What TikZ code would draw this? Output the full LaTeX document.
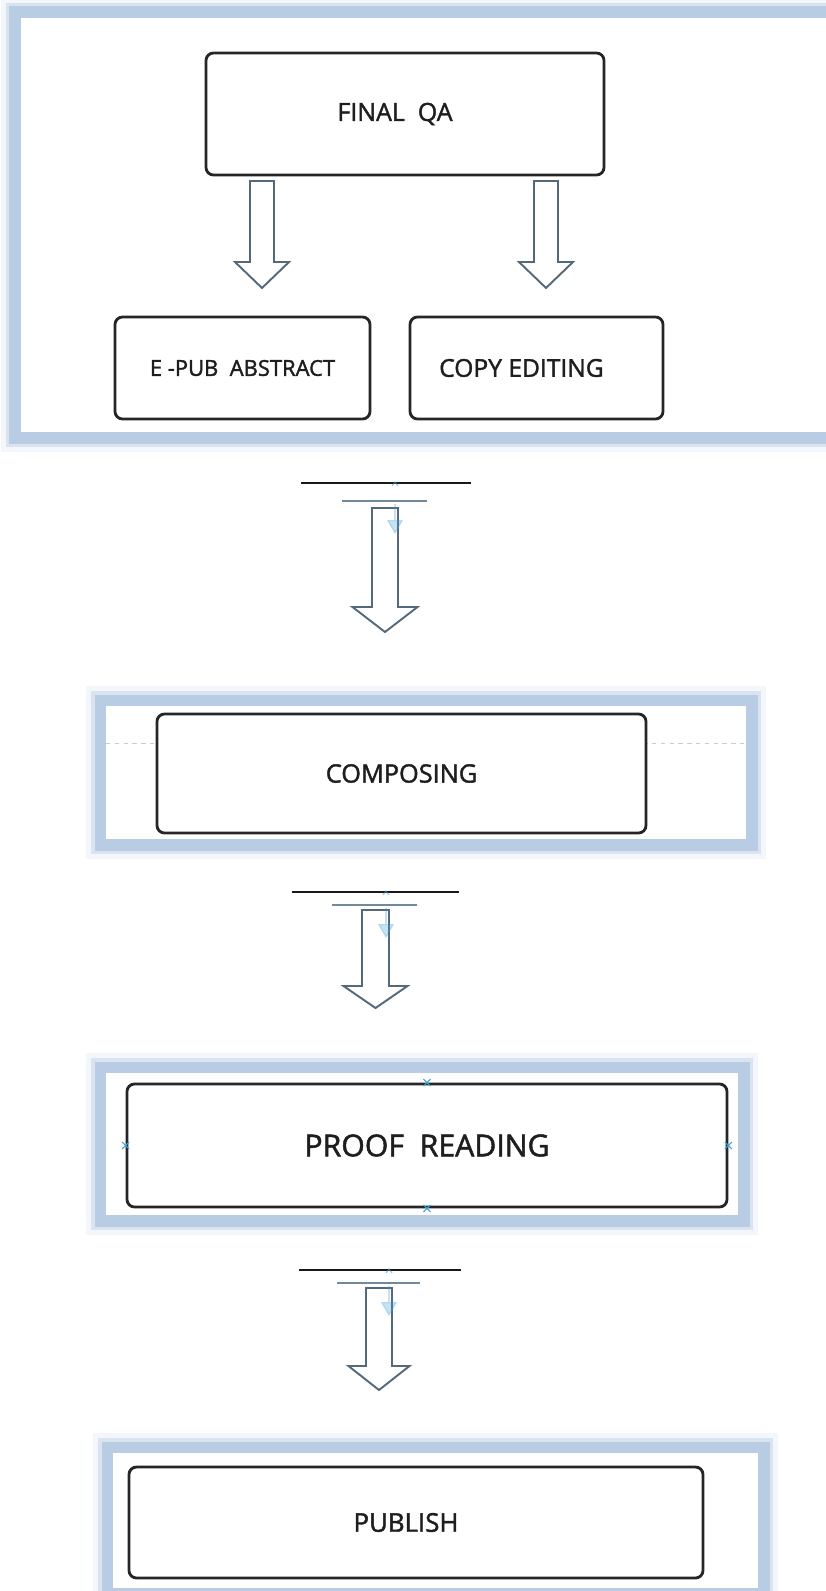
\documentclass[tikz,border=0pt]{standalone}
\usepackage{fontspec}
\setmainfont{Open Sans}[FakeBold=1.6]
\usetikzlibrary{arrows.meta}
\definecolor{frameblue}{RGB}{184,204,228}
\definecolor{framesoft}{RGB}{218,228,241}
\definecolor{framefaint}{RGB}{243,246,251}
\definecolor{arrowgray}{RGB}{84,106,122}
\definecolor{rulegray}{RGB}{112,138,155}
\definecolor{hintblue}{RGB}{60,160,215}
\definecolor{textdark}{RGB}{30,30,30}

\begin{document}
\begin{tikzpicture}[
    stepbox/.style={draw=black!85, line width=1.6pt, rounded corners=0.15cm,
      fill=white, text=textdark, inner sep=0pt},
    glowframe/.style={fill=white, line join=round,
      preaction={draw=framefaint, line width=0.8cm},
      preaction={draw=framesoft, line width=0.6cm},
      preaction={draw=frameblue, line width=0.46cm}},
    blockarr/.style={draw=arrowgray, line width=1.1pt, fill=white},
    hint/.style={hintblue, line width=0.6pt},
  ]
  \useasboundingbox (0,0) rectangle (16.5,-31.82);

  % Frames
  \path[glowframe] (0.42,-0.36) rectangle (16.9,-8.64);
  \path[glowframe] (2.12,-14.12) rectangle (14.92,-16.78);
  \path[glowframe] (2.12,-21.46) rectangle (14.76,-24.30);
  \path[glowframe] (2.26,-29.06) rectangle (15.16,-31.76);

  % Steps
  \node[stepbox, minimum width=7.96cm, minimum height=2.44cm,
    font=\fontsize{14.2}{16}\selectfont] (finalqa) at (8.10,-2.28) {FINAL\ \ QA\hspace*{0.4cm}};
  \node[stepbox, minimum width=5.10cm, minimum height=2.04cm,
    font=\fontsize{12.5}{15}\selectfont] (epub) at (4.85,-7.36) {E -PUB\ \ ABSTRACT};
  \node[stepbox, minimum width=5.06cm, minimum height=2.04cm,
    font=\fontsize{14}{16}\selectfont] (copyed) at (10.73,-7.36) {COPY EDITING\hspace*{0.6cm}};

  \draw[black!20, dash pattern=on 2.5pt off 2.5pt, line width=0.5pt]
    (2.12,-14.86) -- (9,-14.86);
  \draw[black!20, dash pattern=on 2.5pt off 2.5pt, line width=0.5pt]
    (9,-14.86) -- (14.92,-14.86);
  \node[stepbox, minimum width=9.78cm, minimum height=2.38cm,
    font=\fontsize{14.4}{16}\selectfont] (composing) at (8.03,-15.47) {COMPOSING};

  \node[stepbox, minimum width=12.0cm, minimum height=2.46cm,
    font=\fontsize{17.2}{19}\selectfont] (proofread) at (8.54,-22.91) {PROOF\ \ READING};
  \foreach \a in {north,south,east,west} {
    \draw[hint] (proofread.\a) ++(-0.07,-0.07) -- ++(0.14,0.14)
      ++(-0.14,0) -- ++(0.14,-0.14);
  }

  \node[stepbox, minimum width=11.48cm, minimum height=2.22cm,
    font=\fontsize{14.7}{16}\selectfont] (publish) at (8.32,-30.45) {PUBLISH\hspace*{0.4cm}};

  % Block arrows
  \foreach \x/\yt/\yb/\yp/\s/\h in {5.24/-3.62/-5.24/-5.76/0.24/0.54,
      10.92/-3.62/-5.24/-5.76/0.24/0.54, 7.70/-10.16/-12.14/-12.64/0.26/0.65,
      7.51/-18.20/-19.72/-20.16/0.27/0.64, 7.58/-25.76/-27.32/-27.80/0.26/0.61} {
    \draw[blockarr] ({\x-\s},\yt) -- ({\x+\s},\yt) -- ({\x+\s},\yb) -- ({\x+\h},\yb)
      -- (\x,\yp) -- ({\x-\h},\yb) -- ({\x-\s},\yb) -- cycle;
  }

  % Rules above the arrows
  \foreach \xa/\xb/\y/\xc/\xd/\yy/\xm in {6.02/9.42/-9.66/6.84/8.54/-10.02/7.90,
      5.84/9.18/-17.84/6.64/8.34/-18.10/7.72, 5.98/9.22/-25.40/6.74/8.40/-25.66/7.78} {
    \draw[black!90, line width=0.8pt] (\xa,\y) -- (\xb,\y);
    \draw[rulegray, line width=0.8pt] (\xc,\yy) -- (\xd,\yy);
    \draw[hint, opacity=0.6] (\xm,\y) ++(-0.06,-0.06) -- ++(0.06,0.08) -- ++(0.06,-0.08);
    \draw[hint, opacity=0.3, -{Triangle[width=0.32cm,length=0.28cm]}]
      (\xm,{\yy-0.06}) -- ++(0,-0.6);
  }

\end{tikzpicture}
\end{document}
